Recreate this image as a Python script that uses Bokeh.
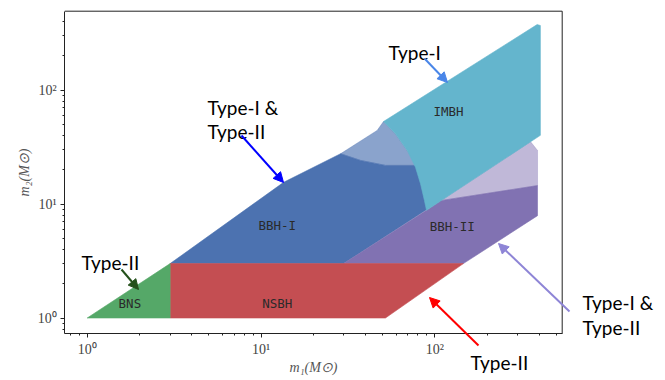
from bokeh.plotting import figure
from bokeh.models import (Range1d, FixedTicker, CustomJSTickFormatter, Label,
                          Arrow, NormalHead, ColumnDataSource)
from bokeh.core.properties import value
from bokeh.embed import file_html
from bokeh.resources import INLINE

# ---------------- data (region boundaries) -------------
bns_m1 = [1.0, 3.0, 3.0]
bns_m2 = [1.0, 1.0, 3.0]

nsbh_m1 = [3.0, 52.0, 146.0, 3.0]
nsbh_m2 = [1.0, 1.0, 3.0, 3.0]

bbh1_m1 = [3.0, 13.5, 28.7, 37.4, 52.0, 80.0, 85.0, 89.0, 90.5, 29.8]
bbh1_m2 = [3.0, 15.5, 27.6, 24.1, 21.8, 21.8, 15.0, 10.7, 9.0, 3.0]

bbh1_sparse_m1 = [28.7, 46.6, 50.7, 59.4, 69.4, 80.0, 52.0, 37.4]
bbh1_sparse_m2 = [27.6, 44.2, 52.9, 41.3, 29.5, 21.8, 21.8, 24.1]

bbh2_m1 = [29.8, 89.6, 107.8, 390.0, 390.0, 146.0]
bbh2_m2 = [3.0, 8.8, 10.7, 14.5, 7.9, 3.0]

bbh2_sparse_m1 = [107.8, 355.0, 390.0, 390.0]
bbh2_sparse_m2 = [10.7, 35.3, 29.5, 14.5]

imbh_m1 = [50.7, 388.0, 405.0, 405.0, 89.6, 87.2, 82.8, 77.4, 69.4, 59.4]
imbh_m2 = [52.9, 375.0, 368.0, 40.0, 8.8, 10.7, 15.0, 21.0, 29.5, 41.3]

region_names = ["IMBH", "BBH-I", "BBH-II", "BNS", "NSBH"]
region_label_m1 = [120.0, 12.4, 126.0, 1.76, 12.4]
region_label_m2 = [64.8, 6.48, 6.35, 1.33, 1.33]

major_ticks = [1, 10, 100]

# ---------------- layout geometry (page pixels) ------------------------------
W, H = 660, 376
PX0, PX_DEC, PY0, PY_DEC = 86.7, 173.8, 317.5, 114.0
BOX_L, BOX_R, BOX_T, BOX_B = 64.3, 561.7, 10.7, 333.0


def at(px, py):
    return 10 ** ((px - PX0) / PX_DEC), 10 ** ((PY0 - py) / PY_DEC)


x_start, y_start = at(0, H)
x_end, y_end = at(W, 0)
x_lo, y_lo = at(BOX_L, BOX_B)
x_hi, y_hi = at(BOX_R, BOX_T)

C_BLUE, C_PURPLE, C_RED, C_GREEN, C_CYAN = "#4C72B0", "#8172B2", "#C44E52", "#55A868", "#64B5CD"

p = figure(x_axis_type="log", y_axis_type="log",
           x_range=Range1d(x_start, x_end), y_range=Range1d(y_start, y_end),
           frame_width=W, frame_height=H,
           min_border_left=0, min_border_right=0,
           min_border_top=0, min_border_bottom=0,
           output_backend="svg", toolbar_location=None)

p.background_fill_color = "white"
p.border_fill_color = "white"
p.outline_line_color = None
p.xgrid.visible = False
p.ygrid.visible = False

src = ColumnDataSource(dict(
    xs=[bbh1_m1, bbh1_sparse_m1, bbh2_m1, bbh2_sparse_m1, nsbh_m1, bns_m1, imbh_m1],
    ys=[bbh1_m2, bbh1_sparse_m2, bbh2_m2, bbh2_sparse_m2, nsbh_m2, bns_m2, imbh_m2],
    color=[C_BLUE, C_BLUE, C_PURPLE, C_PURPLE, C_RED, C_GREEN, C_CYAN],
    alpha=[1.0, 0.65, 1.0, 0.5, 1.0, 1.0, 1.0],
))
p.patches("xs", "ys", source=src, fill_color="color", fill_alpha="alpha",
          line_color="color", line_alpha="alpha", line_width=0.6)

p.text(x=region_label_m1, y=region_label_m2, text=region_names,
       text_font=value("DejaVu Sans Mono"), text_font_size="12.5px",
       text_align="center", text_baseline="middle", text_color="#2a2a2a")

# top and right sides of the axes box
p.segment(x0=[x_lo, x_hi], y0=[y_hi, y_lo], x1=[x_hi, x_hi], y1=[y_hi, y_hi],
          line_color="#222222", line_width=1)

# ---------------- axes --------------------------------------------------------
def minors(lo, hi):
    return [m * 10.0 ** e for e in range(-1, 3) for m in range(2, 10) if lo <= m * 10.0 ** e <= hi]


fmt = CustomJSTickFormatter(code="""
const e = Math.round(Math.log10(tick));
const sup = {'-1':'\u207b\u00b9','0':'\u2070','1':'\u00b9','2':'\u00b2','3':'\u00b3'};
return '10' + sup[String(e)];
""")

p.xaxis.ticker = FixedTicker(ticks=major_ticks, minor_ticks=minors(x_lo, x_hi))
p.yaxis.ticker = FixedTicker(ticks=major_ticks, minor_ticks=minors(y_lo, y_hi))
p.xaxis.fixed_location = y_lo
p.yaxis.fixed_location = x_lo
p.xaxis.bounds = (x_lo, x_hi)
p.yaxis.bounds = (y_lo, y_hi)
for ax in (p.xaxis[0], p.yaxis[0]):
    ax.formatter = fmt
    ax.major_label_text_font = "Liberation Serif"
    ax.major_label_text_font_size = "14px"
    ax.major_label_text_color = "#444444"
    ax.major_tick_in = 0
    ax.major_tick_out = 4
    ax.minor_tick_in = 0
    ax.minor_tick_out = 2
    ax.major_tick_line_color = "#222222"
    ax.minor_tick_line_color = "#222222"
    ax.axis_line_color = "#222222"
    ax.major_label_standoff = 4
    ax.axis_label_text_font = "Liberation Serif"
    ax.axis_label_text_font_style = "italic"
    ax.axis_label_text_font_size = "14px"
    ax.axis_label_text_color = "#555555"
    ax.axis_label_standoff = 3
p.xaxis.axis_label_standoff = 0

p.xaxis.axis_label = "m\u2081(M\u2299)"
p.yaxis.axis_label = "m\u2082(M\u2299)"

# ---------------- annotations ------------------------------------------------
texts = [
    ("Type-I &", 207, 107), ("Type-II", 207, 131),
    ("Type-I", 388, 52),
    ("Type-II", 81, 262),
    ("Type-I &", 582, 302), ("Type-II", 582, 327),
    ("Type-II", 470, 362),
]
for t, px, py in texts:
    x, y = at(px, py)
    p.add_layout(Label(x=x, y=y, text=t, text_font="Lato", text_font_size="19px",
                       text_color="black", text_baseline="alphabetic", text_align="left"))

arrows = [
    ((241, 135), (283, 182), "#0000ff"),
    ((424, 58), (447, 82), "#4a86e8"),
    ((121, 269), (138, 289), "#24501a"),
    ((569, 311), (498, 243), "#8e85d6"),
    ((478, 345), (429, 297), "#ff0000"),
]
for (sx, sy), (ex, ey), c in arrows:
    x0, y0 = at(sx, sy)
    x1, y1 = at(ex, ey)
    p.add_layout(Arrow(x_start=x0, y_start=y0, x_end=x1, y_end=y1,
                       line_color=c, line_width=2,
                       end=NormalHead(size=10, fill_color=c, line_color=c, line_width=1)))

open("out.html", "w").write(file_html(p, INLINE))
